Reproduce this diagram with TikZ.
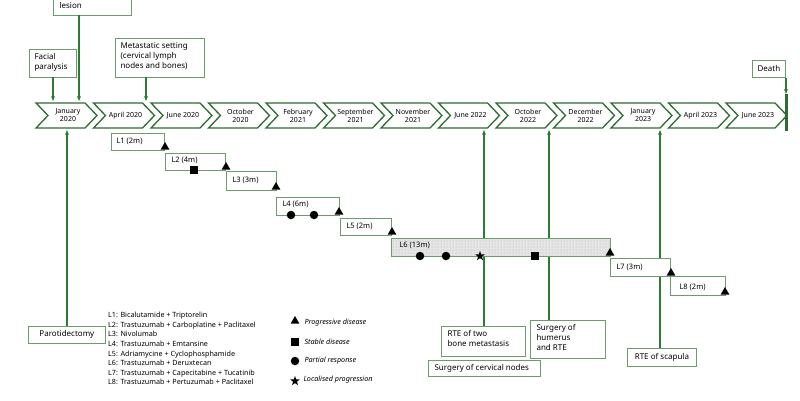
\documentclass[tikz,border=0pt]{standalone}
\usepackage{fontspec}
\setmainfont{Noto Sans}
\usetikzlibrary{shapes.geometric,patterns,arrows.meta}
\definecolor{chev}{HTML}{2E6B33}
\definecolor{boxg}{HTML}{6E9A6E}
\definecolor{arr}{HTML}{2E7A35}
\begin{document}
\begin{tikzpicture}[x=1pt,y=-1pt,
  lbl/.style={draw=boxg,line width=0.8pt,fill=white,align=left,font=\fontsize{8}{9.5}\selectfont,inner sep=0pt,anchor=north west},
  ln/.style={draw=boxg,line width=0.7pt,fill=white,font=\fontsize{7.5}{9}\selectfont,inner sep=0pt,anchor=north west},
  up/.style={draw=arr,line width=1.1pt,-{Stealth[length=5pt,width=4pt]}},
  tri/.style={regular polygon,regular polygon sides=3,fill=black,inner sep=0pt,minimum size=10pt},
  sq/.style={fill=black,inner sep=0pt,minimum size=8pt},
  cir/.style={circle,fill=black,inner sep=0pt,minimum size=8.5pt},
  st/.style={star,star points=5,star point ratio=2.4,fill=black,inner sep=0pt,minimum size=10pt},
  dt/.style={font=\fontsize{7}{8}\selectfont,align=center}]
\useasboundingbox (0,0) rectangle (800,400);
% chevrons
\foreach \l [count=\i from 0] in {{January\\2020},{April 2020},{June 2020},{October\\2020},{February\\2021},{September\\2021},{November\\2021},{June 2022},{October\\2022},{December\\2022},{January\\2023},{April 2023},{June 2023}}{
  \pgfmathsetmacro{\xa}{36+57.5*\i}
  \draw[chev,line width=1.3pt,fill=white] (\xa,103) -- ++(49,0) -- ++(12,12.5) -- ++(-12,12.5) -- ++(-49,0) -- ++(12,-12.5) -- cycle;
  \node[dt] (c\i) at (\xa+32,115.5) {\l};
}
\coordinate (dtop) at (786,94);
\coordinate (dbot) at (786,131);
\draw[chev,line width=3pt] (dtop) -- (dbot);
% top boxes
\node[lbl,minimum width=78pt,minimum height=35pt] (les) at (53,-20) {};
\node[anchor=west,font=\fontsize{8}{10}\selectfont] at (56,5) {lesion};
\coordinate (lesA) at (79,101);
\draw[up] (79,15) -- (lesA);
\node[lbl,minimum width=47pt,minimum height=28pt] (fac) at (29,49) {};
\node[anchor=north west,font=\fontsize{8}{10}\selectfont,align=left] (fact) at (31,50) {Facial\\paralysis};
\coordinate (facA) at (53,101);
\draw[up] (53,77) -- (facA);
\node[lbl,minimum width=89pt,minimum height=39pt] (met) at (115,38) {};
\node[anchor=north west,font=\fontsize{8}{10}\selectfont,align=left] (mett) at (117,39) {Metastatic setting\\(cervical lymph\\nodes and bones)};
\coordinate (metA) at (146,101);
\draw[up] (146,77) -- (metA);
\node[lbl,minimum width=33pt,minimum height=17pt,align=center] (dea) at (752,60) {};
\node[font=\fontsize{8}{10}\selectfont] at (dea.center) {Death};
\draw[up] (dea.south -| dtop) -- (dtop);
% bottom boxes
\node[lbl,minimum width=77pt,minimum height=17pt] (par) at (28,326) {};
\node[font=\fontsize{8}{10}\selectfont] at (par.center) {Parotidectomy};
\draw[up] (67,326) -- (67,130);
\node[lbl,minimum width=84pt,minimum height=30pt] (rte2) at (441,326) {};
\node[anchor=north west,font=\fontsize{8}{10}\selectfont,align=left] at (444,327) {RTE of two\\bone metastasis};
\draw[up] (484,326) -- (484,130);
\node[lbl,minimum width=112pt,minimum height=16pt] (cerv) at (428,360) {};
\node[anchor=west,font=\fontsize{8}{10}\selectfont] at (431,368) {Surgery of cervical nodes};
\node[lbl,minimum width=75pt,minimum height=38pt] (hum) at (530,320) {};
\node[anchor=north west,font=\fontsize{8}{10}\selectfont,align=left] at (533,321) {Surgery of\\humerus\\and RTE};
\draw[up] (549,320) -- (549,130);
\node[lbl,minimum width=69pt,minimum height=18pt] (sca) at (627,348) {};
\node[font=\fontsize{8}{10}\selectfont] at (sca.center) {RTE of scapula};
\draw[up] (660,348) -- (660,130);
% therapy lines
\node[ln,minimum width=53pt,minimum height=17pt] (L1) at (111,133) {};
\node[anchor=west,font=\fontsize{7.5}{9}\selectfont] at (113,141) {L1 (2m)};
\node[ln,minimum width=60pt,minimum height=17pt] (L2) at (165,153) {};
\node[anchor=west,font=\fontsize{7.5}{9}\selectfont] at (168,160) {L2 (4m)};
\node[ln,minimum width=50pt,minimum height=19pt] (L3) at (226,171) {};
\node[anchor=west,font=\fontsize{7.5}{9}\selectfont] at (229,180) {L3 (3m)};
\node[ln,minimum width=63pt,minimum height=18pt] (L4) at (276,197) {};
\node[anchor=west,font=\fontsize{7.5}{9}\selectfont] at (279,204) {L4 (6m)};
\node[ln,minimum width=51pt,minimum height=17pt] (L5) at (340,218) {};
\node[anchor=west,font=\fontsize{7.5}{9}\selectfont] at (343,226) {L5 (2m)};
\fill[gray!20] (391,238) rectangle (610,256);
\fill[pattern=dots,pattern color=gray!60] (391,238) rectangle (610,256);
\draw[boxg,line width=0.7pt] (391,238) rectangle (610,256);
\node[anchor=west,font=\fontsize{7.5}{9}\selectfont] (L6) at (396,245) {L6 (13m)};
\node[ln,minimum width=60pt,minimum height=18pt] (L7) at (610,258) {};
\node[anchor=west,font=\fontsize{7.5}{9}\selectfont] at (613,267) {L7 (3m)};
\node[ln,minimum width=55pt,minimum height=19pt] (L8) at (670,276) {};
\node[anchor=west,font=\fontsize{7.5}{9}\selectfont] at (676,287) {L8 (2m)};
% markers
\foreach \p in {(165,147),(226,167),(276,187),(339,212),(392,232),(610,253),(671,273),(725,292)} \node[tri] at \p {};
\foreach \p in {(194,170),(535,256)} \node[sq] at \p {};
\foreach \p in {(291,215),(314,215),(420,256),(446,256)} \node[cir] at \p {};
\node[st] at (480,256) {};
% legend
\node[anchor=north west,font=\fontsize{7.2}{9.6}\selectfont,align=left,inner sep=0pt] (leg) at (108,312) {L1: Bicalutamide + Triptorelin\\L2: Trastuzumab + Carboplatine + Paclitaxel\\L3: Nivolumab\\L4: Trastuzumab + Emtansine\\L5: Adriamycine + Cyclophosphamide\\L6: Trastuzumab + Deruxtecan\\L7: Trastuzumab + Capecitabine + Tucatinib\\L8: Trastuzumab + Pertuzumab + Paclitaxel};
\node[tri] (g1) at (295,321) {};
\node[anchor=west,font=\fontsize{7.2}{9}\selectfont\itshape] at (301,323) {Progressive disease};
\node[sq] (g2) at (295,342) {};
\node[anchor=west,font=\fontsize{7.2}{9}\selectfont\itshape] at (301,342) {Stable disease};
\node[cir] (g3) at (295,361) {};
\node[anchor=west,font=\fontsize{7.2}{9}\selectfont\itshape] at (301,361) {Partial response};
\node[st] (g4) at (295,381) {};
\node[anchor=west,font=\fontsize{7.2}{9}\selectfont\itshape] at (300,380) {Localised progression};
\end{tikzpicture}
\end{document}
